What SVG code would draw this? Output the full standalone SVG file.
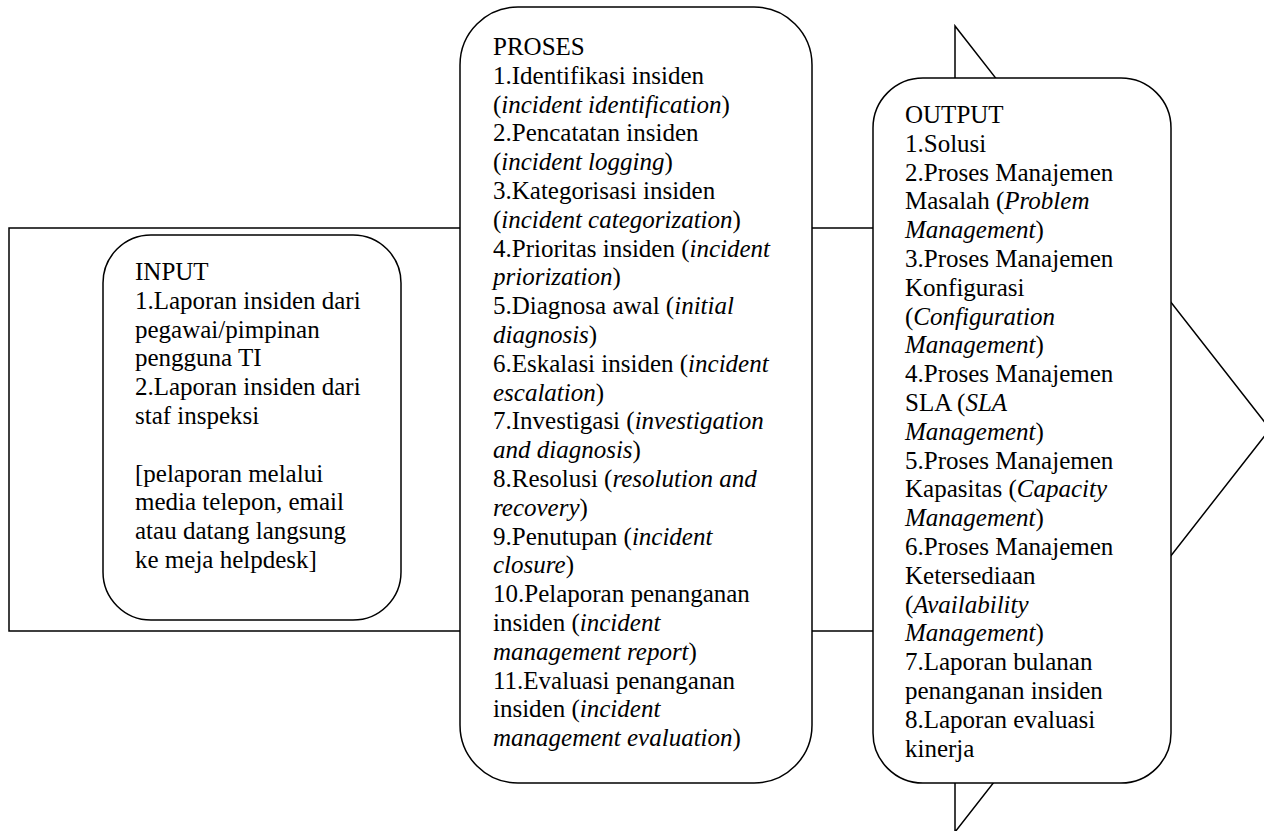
<svg xmlns="http://www.w3.org/2000/svg" width="1264" height="831" viewBox="0 0 1264 831">
<style>
.shape{fill:#fff;stroke:#000;stroke-width:1.5}
.t{font-family:"Liberation Serif","Times New Roman",serif;font-size:25px;fill:#000}
.i{font-style:italic}
</style>
<rect width="1264" height="831" fill="#fff"/>
<g id="connectors">
<polygon class="shape" points="9,228 955,228 955,26 1270,429 955,832 955,631 9,631"/>
</g>
<g id="input">
<rect class="shape" x="103" y="235" width="298" height="385" rx="48" ry="48"/>
<text class="t">
<tspan x="135" y="280">INPUT</tspan>
<tspan x="135" y="308.8">1.Laporan insiden dari</tspan>
<tspan x="135" y="337.6">pegawai/pimpinan</tspan>
<tspan x="135" y="366.4">pengguna TI</tspan>
<tspan x="135" y="395.2">2.Laporan insiden dari</tspan>
<tspan x="135" y="424">staf inspeksi</tspan>
<tspan x="135" y="481.6">[pelaporan melalui</tspan>
<tspan x="135" y="510.4">media telepon, email</tspan>
<tspan x="135" y="539.2">atau datang langsung</tspan>
<tspan x="135" y="568">ke meja helpdesk]</tspan>
</text>
</g>
<g id="proses">
<rect class="shape" x="460" y="7" width="352" height="776" rx="58" ry="58"/>
<text class="t">
<tspan x="493" y="55">PROSES</tspan>
<tspan x="493" y="83.8">1.Identifikasi insiden</tspan>
<tspan x="493" y="112.6">(<tspan class="i">incident identification</tspan>)</tspan>
<tspan x="493" y="141.4">2.Pencatatan insiden</tspan>
<tspan x="493" y="170.2">(<tspan class="i">incident logging</tspan>)</tspan>
<tspan x="493" y="199">3.Kategorisasi insiden</tspan>
<tspan x="493" y="227.8">(<tspan class="i">incident categorization</tspan>)</tspan>
<tspan x="493" y="256.6">4.Prioritas insiden (<tspan class="i">incident</tspan></tspan>
<tspan x="493" y="285.4"><tspan class="i">priorization</tspan>)</tspan>
<tspan x="493" y="314.2">5.Diagnosa awal (<tspan class="i">initial</tspan></tspan>
<tspan x="493" y="343"><tspan class="i">diagnosis</tspan>)</tspan>
<tspan x="493" y="371.8">6.Eskalasi insiden (<tspan class="i">incident</tspan></tspan>
<tspan x="493" y="400.6"><tspan class="i">escalation</tspan>)</tspan>
<tspan x="493" y="429.4">7.Investigasi (<tspan class="i">investigation</tspan></tspan>
<tspan x="493" y="458.2"><tspan class="i">and diagnosis</tspan>)</tspan>
<tspan x="493" y="487">8.Resolusi (<tspan class="i">resolution and</tspan></tspan>
<tspan x="493" y="515.8"><tspan class="i">recovery</tspan>)</tspan>
<tspan x="493" y="544.6">9.Penutupan (<tspan class="i">incident</tspan></tspan>
<tspan x="493" y="573.4"><tspan class="i">closure</tspan>)</tspan>
<tspan x="493" y="602.2">10.Pelaporan penanganan</tspan>
<tspan x="493" y="631">insiden (<tspan class="i">incident</tspan></tspan>
<tspan x="493" y="659.8"><tspan class="i">management report</tspan>)</tspan>
<tspan x="493" y="688.6">11.Evaluasi penanganan</tspan>
<tspan x="493" y="717.4">insiden (<tspan class="i">incident</tspan></tspan>
<tspan x="493" y="746.2"><tspan class="i">management evaluation</tspan>)</tspan>
</text>
</g>
<g id="output">
<rect class="shape" x="873" y="78" width="298" height="705" rx="50" ry="50"/>
<text class="t">
<tspan x="905" y="123">OUTPUT</tspan>
<tspan x="905" y="151.8">1.Solusi</tspan>
<tspan x="905" y="180.6">2.Proses Manajemen</tspan>
<tspan x="905" y="209.4">Masalah (<tspan class="i">Problem</tspan></tspan>
<tspan x="905" y="238.2"><tspan class="i">Management</tspan>)</tspan>
<tspan x="905" y="267">3.Proses Manajemen</tspan>
<tspan x="905" y="295.8">Konfigurasi</tspan>
<tspan x="905" y="324.6">(<tspan class="i">Configuration</tspan></tspan>
<tspan x="905" y="353.4"><tspan class="i">Management</tspan>)</tspan>
<tspan x="905" y="382.2">4.Proses Manajemen</tspan>
<tspan x="905" y="411">SLA (<tspan class="i">SLA</tspan></tspan>
<tspan x="905" y="439.8"><tspan class="i">Management</tspan>)</tspan>
<tspan x="905" y="468.6">5.Proses Manajemen</tspan>
<tspan x="905" y="497.4">Kapasitas (<tspan class="i">Capacity</tspan></tspan>
<tspan x="905" y="526.2"><tspan class="i">Management</tspan>)</tspan>
<tspan x="905" y="555">6.Proses Manajemen</tspan>
<tspan x="905" y="583.8">Ketersediaan</tspan>
<tspan x="905" y="612.6">(<tspan class="i">Availability</tspan></tspan>
<tspan x="905" y="641.4"><tspan class="i">Management</tspan>)</tspan>
<tspan x="905" y="670.2">7.Laporan bulanan</tspan>
<tspan x="905" y="699">penanganan insiden</tspan>
<tspan x="905" y="727.8">8.Laporan evaluasi</tspan>
<tspan x="905" y="756.6">kinerja</tspan>
</text>
</g>
</svg>
